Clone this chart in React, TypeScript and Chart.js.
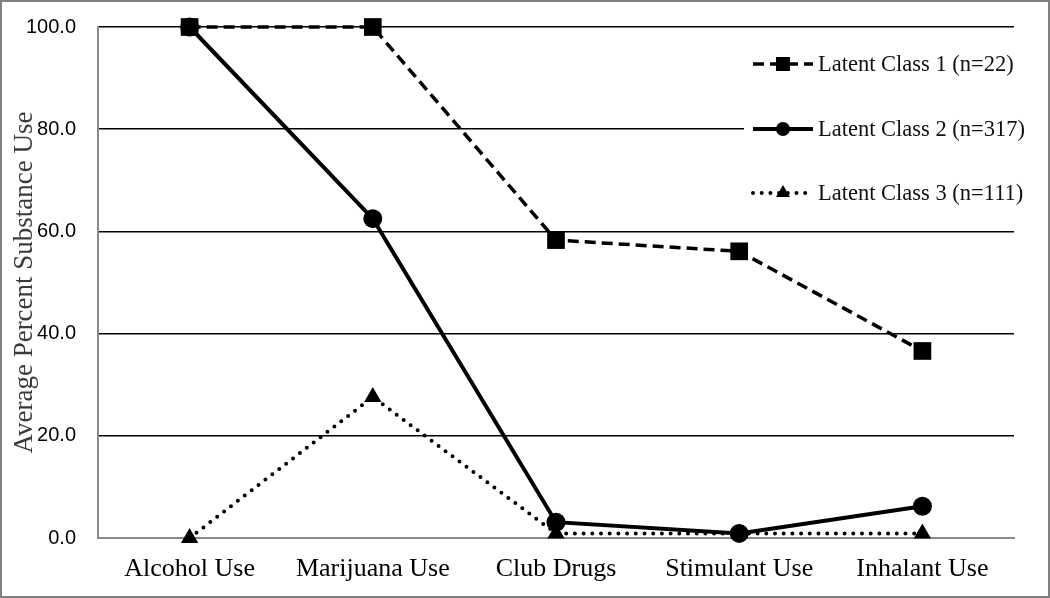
import React, { useEffect, useRef } from "react";
import { Chart, registerables } from "chart.js";

Chart.register(...registerables);

const categories = ["Alcohol Use", "Marijuana Use", "Club Drugs", "Stimulant Use", "Inhalant Use"];
const class1Values = [100, 100, 58.3, 56.1, 36.6];
const class2Values = [100, 62.5, 3.1, 0.9, 6.2];
const class3Values = [0, 27.6, 0.9, 0.9, 0.9];
const seriesLabels = ["Latent Class 1 (n=22)", "Latent Class 2 (n=317)", "Latent Class 3 (n=111)"];
const yTicks = [0, 20, 40, 60, 80, 100];
const yTitle = "Average Percent Substance Use";

const SERIF = '"Liberation Serif", "Times New Roman", serif';
const SANS = '"Liberation Sans", Arial, sans-serif';

const legendPlugin = {
  id: "customLegend",
  afterDraw(chart: any) {
    const ctx = chart.ctx;
    const rows = [62, 127, 191];
    const x0 = 751;
    const x1 = 811;
    const xm = (x0 + x1) / 2;
    ctx.save();
    ctx.fillStyle = "#fff";
    ctx.fillRect(742, 40, 300, 178);
    ctx.restore();
    chart.data.datasets.forEach((ds: any, i: number) => {
      const y = rows[i];
      ctx.save();
      ctx.strokeStyle = "#000";
      ctx.fillStyle = "#000";
      ctx.lineWidth = ds.borderWidth;
      ctx.lineCap = ds.borderCapStyle || "butt";
      ctx.setLineDash(ds.borderDash || []);
      ctx.beginPath();
      ctx.moveTo(x0, y);
      ctx.lineTo(x1, y);
      ctx.stroke();
      ctx.setLineDash([]);
      ctx.beginPath();
      if (ds.pointStyle === "rect") {
        ctx.rect(xm - 7, y - 7, 14, 14);
      } else if (ds.pointStyle === "circle") {
        ctx.arc(xm, y, 7, 0, Math.PI * 2);
      } else {
        const r = 8;
        ctx.moveTo(xm, y - r);
        ctx.lineTo(xm + r * 0.866, y + r * 0.5);
        ctx.lineTo(xm - r * 0.866, y + r * 0.5);
        ctx.closePath();
      }
      ctx.fill();
      ctx.font = `22.5px ${SERIF}`;
      ctx.textBaseline = "middle";
      ctx.textAlign = "left";
      ctx.fillStyle = "#111";
      ctx.fillText(ds.label, 816, y + 1);
      ctx.restore();
    });
  },
};

export default function App() {
  const ref = useRef<HTMLCanvasElement | null>(null);

  useEffect(() => {
    document.body.style.margin = "0";
    const canvas = ref.current!;
    const chart = new Chart(canvas, {
      type: "line",
      data: {
        labels: categories,
        datasets: [
          {
            label: seriesLabels[0],
            data: class1Values,
            borderColor: "#000",
            backgroundColor: "#000",
            borderWidth: 3.5,
            borderDash: [11, 6],
            pointStyle: "rect",
            pointRadius: 12.5,
            pointHoverRadius: 12.5,
            pointBorderWidth: 0,
            tension: 0,
            clip: false,
          },
          {
            label: seriesLabels[1],
            data: class2Values,
            borderColor: "#000",
            backgroundColor: "#000",
            borderWidth: 4,
            pointStyle: "circle",
            pointRadius: 9.5,
            pointHoverRadius: 9.5,
            pointBorderWidth: 0,
            tension: 0,
            clip: false,
          },
          {
            label: seriesLabels[2],
            data: class3Values,
            borderColor: "#000",
            backgroundColor: "#000",
            borderWidth: 4,
            borderDash: [0, 8.7],
            borderCapStyle: "round",
            pointStyle: "triangle",
            pointRadius: 10,
            pointHoverRadius: 10,
            pointBorderWidth: 0,
            tension: 0,
            clip: false,
          },
        ] as any,
      },
      options: {
        responsive: false,
        animation: false,
        events: [],
        layout: { padding: { top: 25, right: 34, left: 0, bottom: 0 } },
        plugins: {
          legend: { display: false },
          tooltip: { enabled: false },
        },
        scales: {
          x: {
            type: "category",
            offset: true,
            grid: { display: false, drawTicks: false },
            border: { display: true, color: "#8a8a8a", width: 2 },
            ticks: {
              font: { family: SERIF, size: 26 },
              color: "#000",
              padding: 16,
              maxRotation: 0,
              autoSkip: false,
            },
            afterFit: (s: any) => {
              s.height = 58;
              s.paddingLeft = 0;
              s.paddingRight = 0;
            },
          },
          y: {
            min: 0,
            max: 100,
            afterBuildTicks: (s: any) => {
              s.ticks = yTicks.map((v) => ({ value: v }));
            },
            ticks: {
              callback: (v: any) => Number(v).toFixed(1),
              font: { family: SANS, size: 20 },
              color: "#000",
              padding: 22,
            },
            grid: {
              color: (c: any) => (c.tick && c.tick.value === 0 ? "rgba(0,0,0,0)" : "#000"),
              lineWidth: 1.5,
              drawTicks: false,
            },
            border: { display: true, color: "#8a8a8a", width: 2 },
            title: {
              display: true,
              text: yTitle,
              font: { family: SERIF, size: 27 },
              color: "#3a3a3a",
              padding: { top: 7, bottom: 0 },
            },
            afterFit: (s: any) => {
              s.width = 96;
              s.paddingTop = 0;
              s.paddingBottom = 0;
            },
          },
        },
      } as any,
      plugins: [legendPlugin],
    });
    return () => chart.destroy();
  }, []);

  return (
    <div
      style={{
        width: 1050,
        height: 598,
        boxSizing: "border-box",
        border: "2px solid #808080",
        background: "#fff",
        overflow: "hidden",
      }}
    >
      <canvas ref={ref} width={1046} height={594} style={{ display: "block" }} />
    </div>
  );
}
